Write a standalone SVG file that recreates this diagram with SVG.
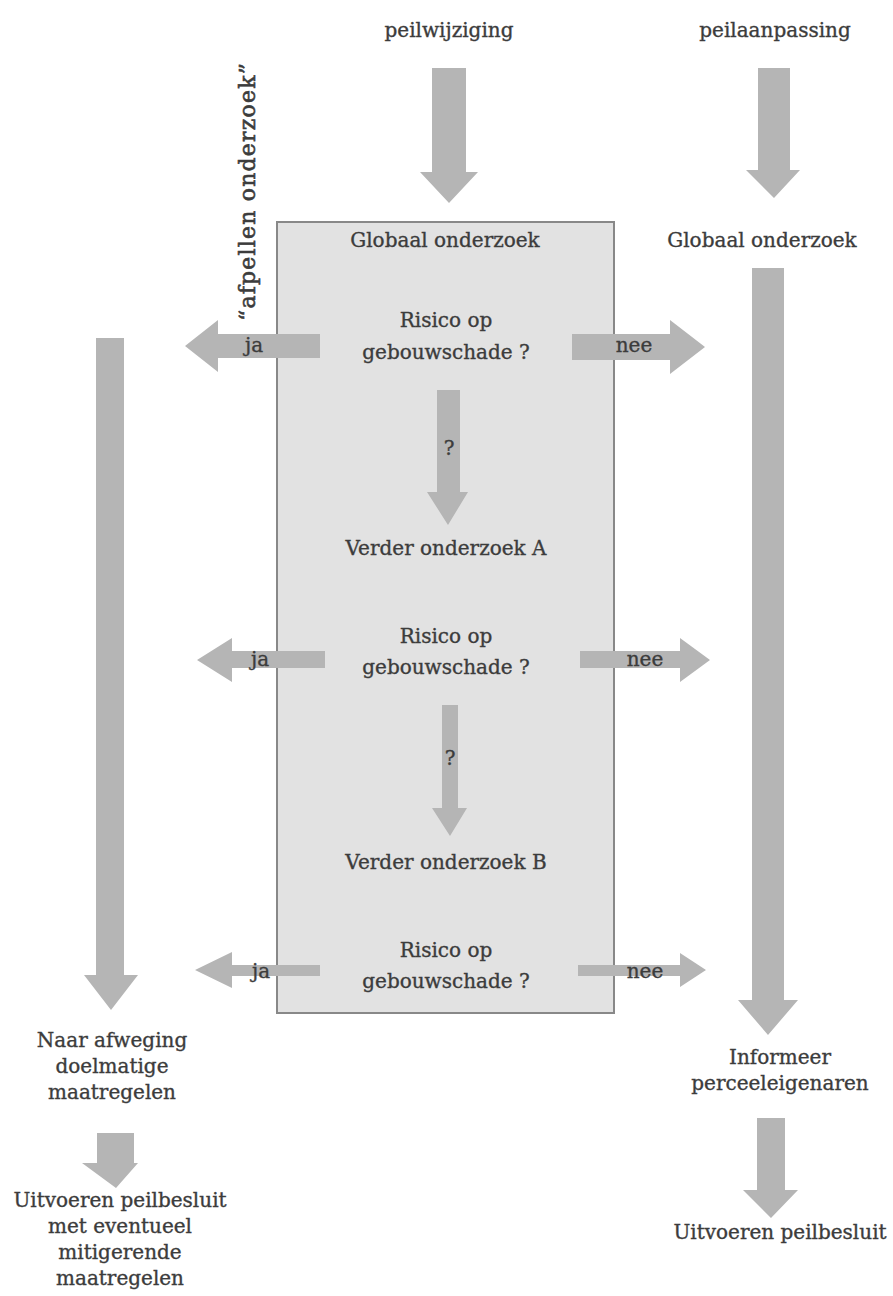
<svg xmlns="http://www.w3.org/2000/svg" width="893" height="1296" viewBox="0 0 893 1296">
<style>
text{font-family:"DejaVu Serif","Liberation Serif",serif;font-size:20px;fill:#3c3c3c;stroke:#3c3c3c;stroke-width:0.35;text-anchor:middle}
.rot{font-size:22px;stroke-width:0.6}
.arr{fill:#b5b5b5}
.box{fill:#e2e2e2;stroke:#888;stroke-width:2}
</style>
<rect width="893" height="1296" fill="#fff"/>
<g id="box"><rect class="box" x="277" y="222" width="337" height="791"/></g>
<g id="connectors">
<polygon class="arr" points="432,68 466,68 466,172 478,172 449,203 420,172 432,172"/>
<polygon class="arr" points="758,68 790,68 790,170 800,170 774,198 746,170 758,170"/>
<polygon class="arr" points="752,268 784,268 784,1000 798,1000 768,1035 738,1000 752,1000"/>
<polygon class="arr" points="96,338 124,338 124,975 138,975 111,1010 84,975 96,975"/>
<polygon class="arr" points="320,334 320,358 218,358 218,372 185,346 218,320 218,334"/>
<polygon class="arr" points="572,334 670,334 670,320 705,347 670,374 670,360 572,360"/>
<polygon class="arr" points="437,390 460,390 460,492 468,492 448,525 427,492 437,492"/>
<polygon class="arr" points="325,651 325,668 232,668 232,682 197,660 232,638 232,651"/>
<polygon class="arr" points="580,651 680,651 680,638 710,660 680,682 680,668 580,668"/>
<polygon class="arr" points="442,705 458,705 458,808 467,808 450,836 432,808 442,808"/>
<polygon class="arr" points="320,965 320,976 232,976 232,988 195,970 232,952 232,965"/>
<polygon class="arr" points="578,965 680,965 680,953 706,970 680,987 680,976 578,976"/>
<polygon class="arr" points="97,1133 134,1133 134,1163 138,1163 116,1188 82,1163 97,1163"/>
<polygon class="arr" points="757,1118 785,1118 785,1190 798,1190 771,1218 743,1190 757,1190"/>
</g>
<g id="labels">
<text x="449" y="37">peilwijziging</text>
<text x="775" y="37">peilaanpassing</text>
<text class="rot" transform="translate(255,192) rotate(-90)" textLength="258" lengthAdjust="spacing">“afpellen onderzoek”</text>
</g>
<g id="n1"><text x="445" y="247">Globaal onderzoek</text></g>
<g id="n2"><text x="762" y="247">Globaal onderzoek</text></g>
<g id="r1"><text x="446" y="327">Risico op</text><text x="446" y="359">gebouwschade ?</text>
<text x="254" y="352">ja</text><text x="634" y="352">nee</text></g>
<g id="q1"><text x="449" y="455">?</text></g>
<g id="vA"><text x="446" y="555">Verder onderzoek A</text></g>
<g id="r2"><text x="446" y="643">Risico op</text><text x="446" y="674">gebouwschade ?</text>
<text x="260" y="666">ja</text><text x="645" y="666">nee</text></g>
<g id="q2"><text x="450" y="765">?</text></g>
<g id="vB"><text x="446" y="869">Verder onderzoek B</text></g>
<g id="r3"><text x="446" y="957">Risico op</text><text x="446" y="988">gebouwschade ?</text>
<text x="261" y="978">ja</text><text x="645" y="978">nee</text></g>
<g id="left1"><text x="112" y="1047">Naar afweging</text><text x="112" y="1073">doelmatige</text><text x="112" y="1099">maatregelen</text></g>
<g id="left2"><text x="120" y="1207">Uitvoeren peilbesluit</text><text x="120" y="1233">met eventueel</text><text x="120" y="1259">mitigerende</text><text x="120" y="1285">maatregelen</text></g>
<g id="right1"><text x="780" y="1064">Informeer</text><text x="780" y="1090">perceeleigenaren</text></g>
<g id="right2"><text x="780" y="1239">Uitvoeren peilbesluit</text></g>
</svg>
